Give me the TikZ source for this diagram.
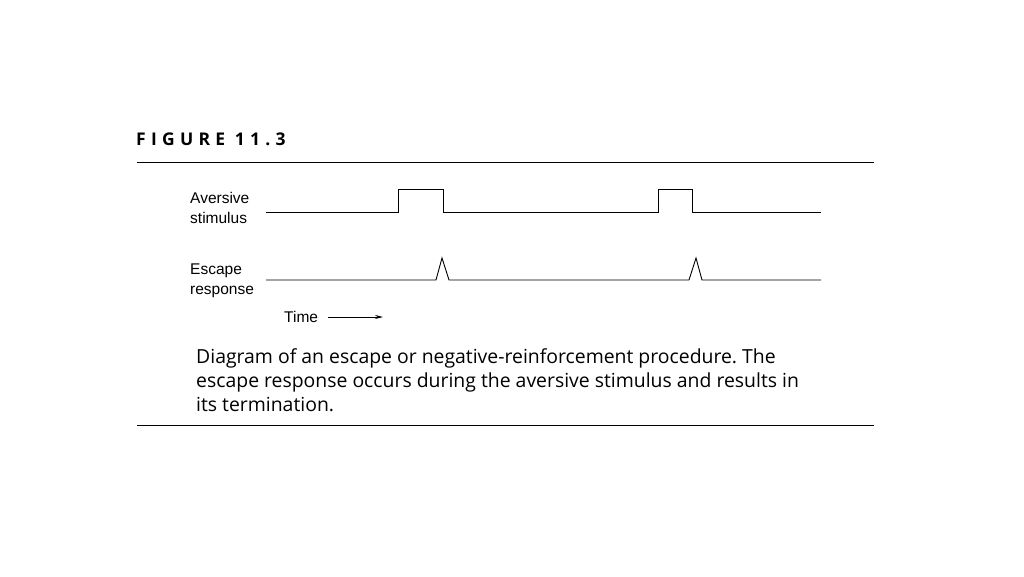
\documentclass[tikz,border=0pt]{standalone}
\usepackage{fontspec}
\setmainfont{Liberation Sans}
\newfontfamily\capfont{Open Sans}
\newfontfamily\titlefont[LetterSpace=30]{Open Sans}
\usetikzlibrary{arrows.meta}
\frenchspacing
\begin{document}
\begin{tikzpicture}[x=1pt,y=-1pt,
  sig/.style={line width=0.9pt,line join=miter},
  rulestyle/.style={line width=1pt},
  lbl/.style={font=\fontsize{15.5}{20}\selectfont,anchor=west,align=left,inner sep=0pt}]
\useasboundingbox[fill=white] (0,0) rectangle (1024,576);
\node[anchor=base west,inner sep=0pt,font=\titlefont\bfseries\fontsize{17.5}{17.5}\selectfont] (title) at (136,145.5) {FIGURE 11.3};
\coordinate (r1a) at (137,162); \coordinate (r1b) at (874,162);
\draw[rulestyle] (r1a) -- (r1b);
\node[lbl] (av) at (190,208) {Aversive\\stimulus};
\node[lbl] (es) at (190,280.5) {Escape\\response};
\coordinate (a0) at (266,212); \coordinate (a1) at (821,212);
\draw[sig] (a0) -- (398,212) -- (398,189) -- (443,189) -- (443,212) -- (658,212) -- (658,189) -- (692,189) -- (692,212) -- (a1);
\coordinate (e0) at (266,280); \coordinate (e1) at (821,280);
\draw[sig] (e0) -- (436,280) -- (442,258) -- (449,280) -- (689,280) -- (696,258) -- (702,280) -- (e1);
\node[lbl] (time) at (284,316.5) {Time};
\coordinate (t0) at (328,317); \coordinate (t1) at (383,317);
\draw[sig,-{Stealth[length=8pt,width=4pt]}] (t0) -- (t1);
\node[anchor=north west,inner sep=0pt,align=left,font=\capfont\fontsize{19.4}{24}\selectfont] (cap) at (196,348) {Diagram of an escape or negative-reinforcement procedure. The\\escape response occurs during the aversive stimulus and results in\\its termination.};
\coordinate (r2a) at (137,425); \coordinate (r2b) at (874,425);
\draw[line width=0.8pt] (r2a) -- (r2b);
\end{tikzpicture}
\end{document}
